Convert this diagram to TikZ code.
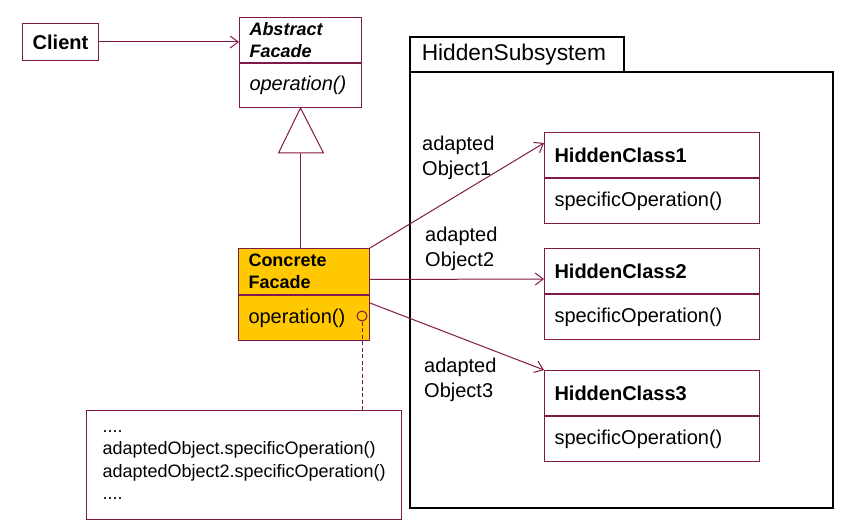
\documentclass[tikz,border=0pt]{standalone}
\usepackage{fontspec}
\setmainfont{Liberation Sans}
\usetikzlibrary{arrows.meta,positioning}
\definecolor{umlline}{RGB}{128,24,72}
\definecolor{facadefill}{RGB}{255,200,0}

\begin{document}
\begin{tikzpicture}[x=1pt,y=-1pt,
		compart/.style={draw=umlline, line width=1pt, anchor=north west, inner xsep=10pt, inner ysep=0pt, align=left, font=\fontsize{20}{24}\selectfont},
		titlefont/.style={font=\fontsize{18}{22.5}\selectfont\bfseries},
		assoc/.style={draw=umlline, line width=1pt, -{Straight Barb[length=8pt,width=12pt]}},
		pkg/.style={draw=black, line width=1.6pt, anchor=north west, inner xsep=12pt, inner ysep=0pt, align=left},
		lbl/.style={anchor=west, inner sep=0pt, align=left, font=\fontsize{20}{25}\selectfont}]
		\useasboundingbox (0,0) rectangle (853,529);
		
		% package of the hidden subsystem
		\node[pkg, text width=190pt, minimum height=35pt, font=\fontsize{22.7}{26}\selectfont] (hstab) at (409,36) {HiddenSubsystem};
		\node[pkg, minimum width=423pt, minimum height=436pt] (hsbody) at (409,71) {};
		
		% client and facades
		\node[compart, font=\fontsize{20}{24}\selectfont\bfseries, align=center, text width=56pt, minimum height=37pt] (client) at (22,23) {Client};
		
		\node[compart, titlefont, font=\fontsize{18}{22.5}\selectfont\bfseries\itshape, text width=102pt, minimum height=45pt] (af-t) at (239,17) {Abstract\\Facade};
		\node[compart, font=\fontsize{20}{24}\selectfont\itshape, text width=102pt, minimum height=44pt] (af-o) at (af-t.south west) {operation()};
		
		\node[compart, titlefont, fill=facadefill, text width=111pt, minimum height=46pt] (cf-t) at (238,248) {Concrete\\Facade};
		\node[compart, fill=facadefill, text width=111pt, minimum height=45pt] (cf-o) at (cf-t.south west) {operation()};
		
		% hidden classes
		\foreach \i/\y in {1/132, 2/248, 3/370}{
			\node[compart, font=\fontsize{20}{24}\selectfont\bfseries, text width=195pt, minimum height=45pt] (hc\i-t) at (544,\y) {HiddenClass\i};
			\node[compart, text width=195pt, minimum height=45pt] (hc\i-o) at (hc\i-t.south west) {specificOperation()};
		}
		
		% note
		\node[compart, inner xsep=16pt, text width=283pt, minimum height=109pt, font=\fontsize{18}{22.3}\selectfont] (note) at (86,410) {....\\adaptedObject.specificOperation()\\adaptedObject2.specificOperation()\\....};
		\node[circle, draw=umlline, line width=1pt, inner sep=0pt, minimum size=10pt] (ball) at (362,316) {};
		\draw[umlline, line width=1pt, dash pattern=on 4pt off 2.5pt] (ball.south) -- (ball.south |- note.north);
		
		% connectors
		\draw[assoc] (client) -- (client -| af-t.west);
		
		\coordinate (tribase) at ([yshift=-45pt]af-o.south);
		\draw[umlline, line width=1pt] (af-o.south) -- ([xshift=23pt]tribase) -- ([xshift=-22pt]tribase) -- cycle;
		\draw[umlline, line width=1pt] (tribase) -- (tribase |- cf-t.north);
		
		\draw[assoc] (cf-t.north east) -- ([yshift=-11pt]hc1-t.north west);
		\draw[assoc] ([yshift=-8pt]cf-t.east) -- ([yshift=-8pt]hc2-t.west);
		\draw[assoc] ([yshift=-8pt]cf-o.north east) -- (hc3-t.north west);
		
		% role names
		\node[lbl] (role1) at (422,158) {adapted\\Object1};
		\node[lbl] (role2) at (425,249) {adapted\\Object2};
		\node[lbl] (role3) at (424,380) {adapted\\Object3};
	\end{tikzpicture}
\end{document}
